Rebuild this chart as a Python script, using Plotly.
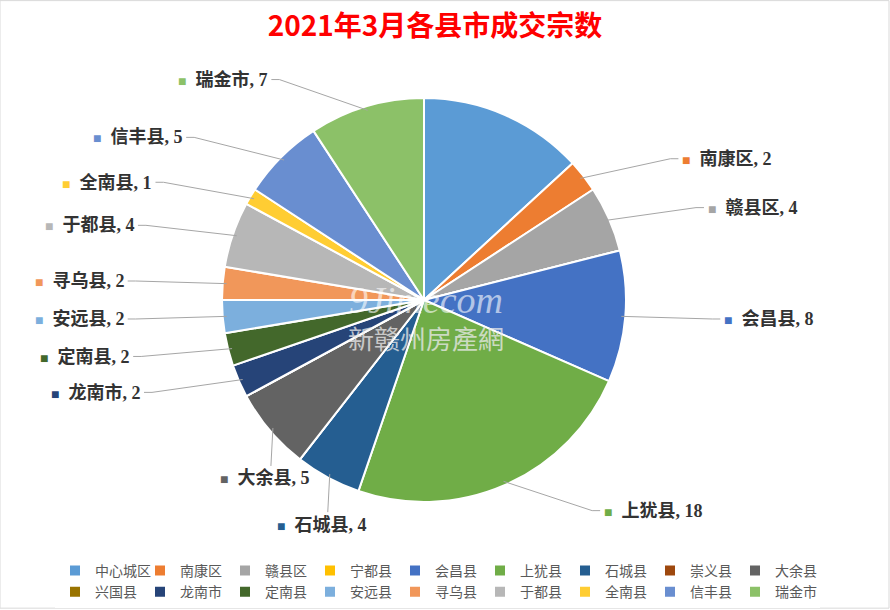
import math
import plotly.graph_objects as go

categories = ["中心城区", "南康区", "赣县区", "宁都县", "会昌县", "上犹县", "石城县", "崇义县", "大余县",
              "兴国县", "龙南市", "定南县", "安远县", "寻乌县", "于都县", "全南县", "信丰县", "瑞金市"]
values = [10, 2, 4, 0, 8, 18, 4, 0, 5, 0, 2, 2, 2, 2, 4, 1, 5, 7]
colors = ["#5B9BD5", "#ED7D31", "#A5A5A5", "#FFC000", "#4472C4", "#70AD47", "#255E91", "#9E480E", "#636363",
          "#997300", "#264478", "#43682B", "#7CAFDD", "#F1975A", "#B7B7B7", "#FFCD33", "#698ED0", "#8CC168"]
hidden_labels = ["中心城区"]
title_text = "2021年3月各县市成交宗数"

W, H = 890, 610
MR = 100            # right margin, limits legend row width to 9 entries
PW = W - MR         # plot-area width in px
cx, cy, r = 424, 300, 202

fig = go.Figure()
fig.add_trace(go.Pie(
    labels=categories, values=values, sort=False, direction="clockwise", rotation=0,
    marker=dict(colors=colors, line=dict(color="white", width=2)),
    textinfo="none", hoverinfo="label+value",
    domain=dict(x=[(cx - r) / PW, (cx + r) / PW], y=[(H - cy - r) / H, (H - cy + r) / H]),
))

def px2paper(x, y):
    return x / PW, 1 - y / H

total = sum(values)
annotations = []
shapes = []
cum = 0
label_font = dict(family="Liberation Serif, Noto Sans CJK SC", size=18, color="#333333", weight="bold")
for name, v, col in zip(categories, values, colors):
    mid = (cum + v / 2) / total * 2 * math.pi
    cum += v
    if v <= 0 or name in hidden_labels:
        continue
    s, c = math.sin(mid), math.cos(mid)
    ex, ey = cx + (r - 4) * s, cy - (r - 4) * c
    right = s > 0
    key = f'<span style="color:{col};font-size:14px">■</span>  '
    if (not right) and c < -0.6:
        # label placed below the slice
        lx, ly = ex - 8, ey + 50
        shapes.append(dict(type="path", xref="paper", yref="paper",
                           path="M{},{} L{},{}".format(*px2paper(ex, ey), *px2paper(ex - 2, ly - 12)),
                           line=dict(color="#A6A6A6", width=1)))
        x1, y1 = px2paper(lx, ly)
        annotations.append(dict(x=x1, y=y1, xref="paper", yref="paper", text=key + f"{name}, {v}",
                                showarrow=False, xanchor="center", yanchor="middle", font=label_font))
        continue
    lx = cx + r * s + (95 if right else -95)
    ly = cy - (r + 28) * c
    ox = lx - 8 if right else lx + 8
    p = [px2paper(ex, ey), px2paper(ox, ly), px2paper(lx, ly)]
    shapes.append(dict(type="path", xref="paper", yref="paper",
                       path="M{},{} L{},{} L{},{}".format(*p[0], *p[1], *p[2]),
                       line=dict(color="#A6A6A6", width=1)))
    x1, y1 = px2paper(lx, ly)
    annotations.append(dict(
        x=x1, y=y1, xref="paper", yref="paper", text=key + f"{name}, {v}", showarrow=False,
        xanchor="left" if right else "right", yanchor="middle",
        xshift=2 if right else -2, font=label_font,
    ))

annotations.append(dict(x=426 / PW, y=1 - 300 / H, xref="paper", yref="paper", text="<i>9Jimecom</i>",
                        showarrow=False, font=dict(family="Liberation Serif", size=38,
                                                   color="rgba(255,255,255,0.6)")))
annotations.append(dict(x=426 / PW, y=1 - 337 / H, xref="paper", yref="paper", text="新赣州房產網",
                        showarrow=False, font=dict(family="Noto Sans CJK SC", size=26,
                                                   color="rgba(235,235,235,0.75)")))

shapes.append(dict(type="rect", xref="paper", yref="paper", x0=0, y0=0.003, x1=(W - 1) / PW, y1=0.999,
                   line=dict(color="#D9D9D9", width=1)))

fig.update_layout(
    width=W, height=H, margin=dict(l=0, r=MR, t=0, b=0),
    paper_bgcolor="white", plot_bgcolor="white",
    title=dict(text=f"<b>{title_text}</b>", x=435 / W, xanchor="center", y=1 - 26 / H, yanchor="middle",
               font=dict(family="Noto Sans CJK SC", size=28, color="#FF0000")),
    legend=dict(orientation="h", x=55 / PW, xanchor="left", y=1 - 555 / H, yanchor="top",
                entrywidth=40, font=dict(family="Liberation Serif, Noto Sans CJK SC", size=14, color="#595959"),
                itemwidth=30, traceorder="normal"),
    annotations=annotations, shapes=shapes,
)

fig.write_html("out.html")
